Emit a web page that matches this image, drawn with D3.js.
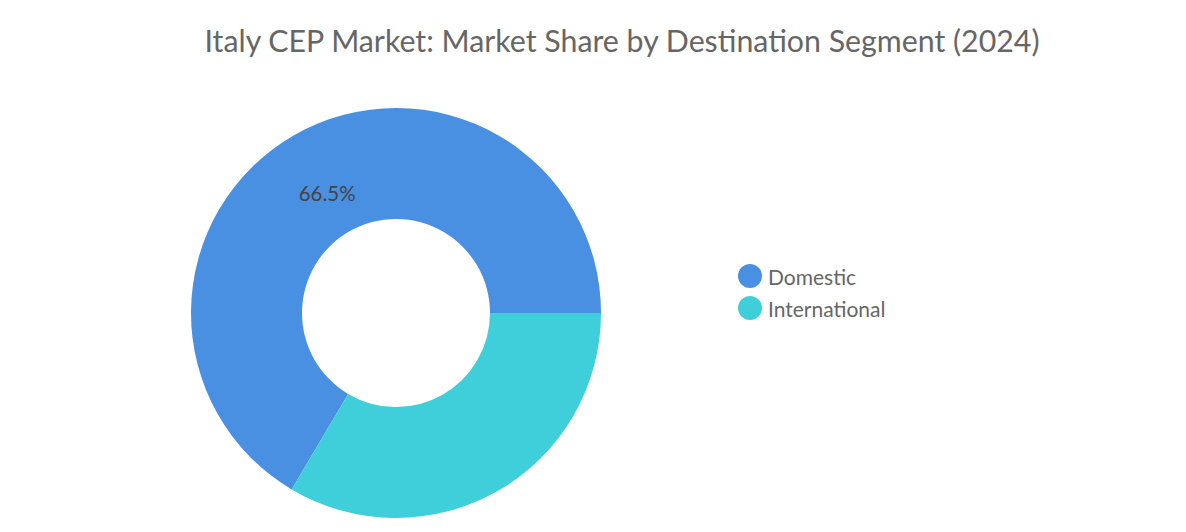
<!DOCTYPE html>
<html>
<head>
<meta charset="utf-8">
<script src="https://cdn.jsdelivr.net/npm/d3@7"></script>
<style>
  html, body { margin: 0; padding: 0; background: #fff; }
  svg { display: block; font-family: Lato, "Open Sans", sans-serif; }
</style>
</head>
<body>
<svg id="chart" width="1186" height="532"></svg>
<script>
const categories = ["Domestic", "International"];
const shares = [66.5, 33.5];
const labels = ["66.5%", ""];
const colors = ["#4a90e2", "#3fcfda"];

const svg = d3.select("#chart");

svg.append("text")
  .attr("x", 622).attr("y", 52)
  .attr("text-anchor", "middle")
  .attr("fill", "#666")
  .attr("font-size", 30.3)
  .text("Italy CEP Market: Market Share by Destination Segment (2024)");

const cx = 396, cy = 313, rOuter = 205, rInner = 94;

const data = categories.map((c, i) => ({ name: c, value: shares[i], label: labels[i] }));
const pie = d3.pie().value(d => d.value).sort(null)
  .startAngle(Math.PI / 2).endAngle(Math.PI / 2 - 2 * Math.PI);
const arc = d3.arc().innerRadius(rInner).outerRadius(rOuter);
const color = d3.scaleOrdinal().domain(categories).range(colors);

const g = svg.append("g").attr("transform", `translate(${cx},${cy})`);
const arcs = pie(data);
g.selectAll("path").data(arcs).join("path")
  .attr("d", arc)
  .attr("fill", d => color(d.data.name));

g.selectAll("text.lbl").data(arcs.filter(d => d.data.label)).join("text")
  .attr("class", "lbl")
  .attr("transform", () => {
    const a = -0.522;
    const r = 138;
    return `translate(${r * Math.sin(a)},${-r * Math.cos(a)})`;
  })
  .attr("text-anchor", "middle")
  .attr("dominant-baseline", "central")
  .attr("fill", "#444")
  .attr("font-size", 20.5)
  .text(d => d.data.label);

const legend = svg.append("g").attr("transform", "translate(750,276)");
const item = legend.selectAll("g").data(categories).join("g")
  .attr("transform", (d, i) => `translate(0,${i * 32})`);
item.append("circle").attr("r", 12).attr("fill", d => color(d));
item.append("text").attr("x", 18).attr("y", 0)
  .attr("dominant-baseline", "central")
  .attr("fill", "#666").attr("font-size", 21)
  .text(d => d);
</script>
</body>
</html>
